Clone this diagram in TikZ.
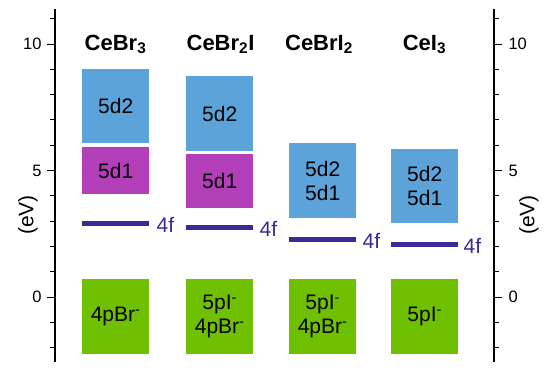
\documentclass[tikz,border=0pt]{standalone}
\usepackage{fontspec}
\setmainfont{Liberation Sans}
\usetikzlibrary{positioning}

\definecolor{dblue}{RGB}{91,163,216}
\definecolor{dpurple}{RGB}{178,62,184}
\definecolor{pgreen}{RGB}{111,192,0}
\definecolor{fnavy}{RGB}{58,42,150}

\begin{document}
\begin{tikzpicture}[
        x=1pt, y=-1pt,
        lvlbox/.style={rectangle, inner sep=0pt, anchor=north west, minimum width=67pt, align=center, font=\fontsize{21}{24}\selectfont},
        dbox/.style={lvlbox, fill=dblue},
        d1box/.style={lvlbox, fill=dpurple},
        pbox/.style={lvlbox, fill=pgreen, minimum height=75pt},
        fline/.style={rectangle, inner sep=0pt, anchor=west, fill=fnavy, minimum width=67pt, minimum height=5pt},
        flabel/.style={inner sep=0pt, text=fnavy, font=\fontsize{21}{24}\selectfont},
        cmpd/.style={anchor=base, font=\fontsize{22}{26}\selectfont\bfseries},
        axnum/.style={font=\fontsize{16.5}{19}\selectfont},
        axname/.style={rotate=90, font=\fontsize{21}{24}\selectfont},
    ]
        \useasboundingbox (0,0) rectangle (550,376);

        % Compound names
        \node[cmpd] (t1) at (115.5,50) {CeBr\textsubscript{3}};
        \node[cmpd] (t2) at (220.5,50) {CeBr\textsubscript{2}I};
        \node[cmpd] (t3) at (319,50) {CeBrI\textsubscript{2}};
        \node[cmpd] (t4) at (424.5,50) {CeI\textsubscript{3}};

        % CeBr3
        \node[dbox, minimum height=74pt] (a5d2) at (82,69) {5d2};
        \node[d1box, minimum height=47pt] (a5d1) at (82,147) {5d1};
        \node[fline] (a4f) at (82,223) {};
        \node[flabel, right=7pt of a4f, yshift=-1.5pt] (a4fl) {4f};
        \node[pbox] (aval) at (82,279) {4pBr\textsuperscript{-}};

        % CeBr2I
        \node[dbox, minimum height=75pt] (b5d2) at (186,76) {5d2};
        \node[d1box, minimum height=54pt] (b5d1) at (186,154) {5d1};
        \node[fline] (b4f) at (186,227) {};
        \node[flabel, right=6pt of b4f, yshift=-1.5pt] (b4fl) {4f};
        \node[pbox] (bval) at (186,279) {5pI\textsuperscript{-}\\4pBr\textsuperscript{-}};

        % CeBrI2
        \node[dbox, minimum height=75pt] (c5d) at (289,143) {5d2\\5d1};
        \node[fline] (c4f) at (289,239) {};
        \node[flabel, right=6pt of c4f, yshift=-1.5pt] (c4fl) {4f};
        \node[pbox] (cval) at (289,279) {5pI\textsuperscript{-}\\4pBr\textsuperscript{-}};

        % CeI3
        \node[dbox, minimum height=74pt] (d5d) at (391,149) {5d2\\5d1};
        \node[fline] (d4f) at (391,244) {};
        \node[flabel, right=5pt of d4f, yshift=-1.5pt] (d4fl) {4f};
        \node[pbox] (dval) at (391,279) {5pI\textsuperscript{-}};

        % Energy axes
        \draw[line width=1.3pt] (55,9) -- (55,362);
        \draw[line width=1.3pt] (494,9) -- (494,362);
        \foreach \k in {-2,...,11} {
            \draw[line width=1pt] (55,{297-25.3*\k}) -- ++(-5,0);
            \draw[line width=1pt] (494,{297-25.3*\k}) -- ++(5,0);
        }
        \foreach \k in {0,5,10} {
            \draw[line width=1pt] (55,{297-25.3*\k}) -- ++(-8,0);
            \draw[line width=1pt] (494,{297-25.3*\k}) -- ++(8,0);
            \node[axnum, anchor=east] at (45,{297-25.3*\k}) {\k};
            \node[axnum, anchor=west] at (505,{297-25.3*\k}) {\k};
        }
        \node[axname] (lax) at (28,215) {(eV)};
        \node[axname] (rax) at (529,215) {(eV)};
    \end{tikzpicture}
\end{document}
